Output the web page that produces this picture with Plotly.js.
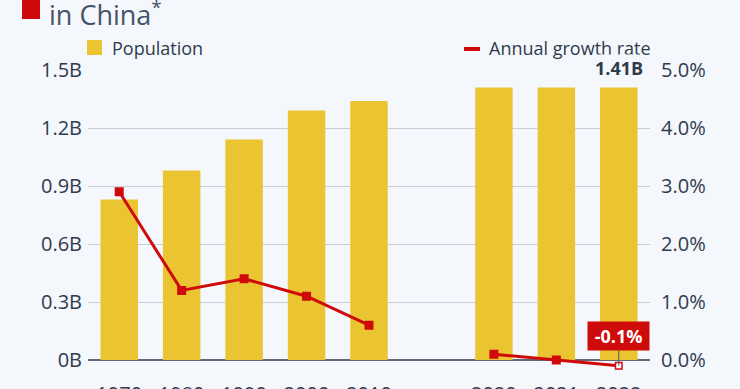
<!DOCTYPE html>
<html>
<head>
<meta charset="utf-8">
<script src="https://cdn.plot.ly/plotly-3.0.1.min.js"></script>
<style>
  html, body { margin: 0; padding: 0; background: #f4f7fb; }
  #chart { width: 740px; height: 389px; }
</style>
</head>
<body>
<div id="chart"></div>
<script>
// ---- data ----
const years = ["1970", "1980", "1990", "2000", "2010", "", "2020", "2021", "2022"];
const populationB = [0.83, 0.98, 1.14, 1.29, 1.34, null, 1.41, 1.41, 1.41];
const growthPct = [2.9, 1.2, 1.4, 1.1, 0.6, null, 0.1, 0.0, -0.1];
const leftTickVals = [0, 0.3, 0.6, 0.9, 1.2, 1.5];
const leftTickText = ["0B", "0.3B", "0.6B", "0.9B", "1.2B", "1.5B"];
const rightTickVals = [0, 1, 2, 3, 4, 5];
const rightTickText = ["0.0%", "1.0%", "2.0%", "3.0%", "4.0%", "5.0%"];
const titleText = "in China<sup>*</sup>";
const legendNames = ["Population", "Annual growth rate"];
const lastPopLabel = "1.41B";
const lastGrowthLabel = "-0.1%";

// ---- style ----
const BG = "#f4f7fb";
const YELLOW = "#eac431";
const RED = "#cf0a0a";
const TEXT = "#2f3b4d";
const FONT = "Open Sans, sans-serif";

// pixel frame: zero line at Z, top gridline at T, plot extends below zero to B
const L = 88, R = 650, T = 70, Z = 360, B = 372;
const px = x => (x - L) / (R - L);
const py = y => (B - y) / (B - T);
const yTop = 1.5, y2Top = 5;
const yLow = -yTop * (B - Z) / (Z - T);
const y2Low = -y2Top * (B - Z) / (Z - T);

const n = years.length;
const slot = years.map((y, i) => i);              // category slot index (one empty slot)
const tickSlots = slot.filter(i => years[i] !== "");
const tickLabels = tickSlots.map(i => years[i]);
const markerColors = growthPct.map((v, i) => i === n - 1 ? "#ffffff" : RED);
const markerSizes = growthPct.map((v, i) => i === n - 1 ? 6.5 : 7.5);

const traces = [
  {
    type: "bar",
    x: slot,
    y: populationB,
    marker: { color: YELLOW, line: { width: 0 } },
    showlegend: false,
    hoverinfo: "skip"
  },
  {
    type: "scatter",
    mode: "lines+markers",
    x: slot,
    y: growthPct,
    yaxis: "y2",
    line: { color: RED, width: 3 },
    marker: { symbol: "square", color: markerColors, size: markerSizes, opacity: 1, line: { color: RED, width: 1.5 } },
    cliponaxis: false,
    showlegend: false,
    hoverinfo: "skip"
  }
];

const layout = {
  width: 740,
  height: 389,
  margin: { l: L, r: 740 - R, t: T, b: 389 - B, pad: 0 },
  paper_bgcolor: BG,
  plot_bgcolor: BG,
  font: { family: FONT, color: TEXT, size: 20 },
  bargap: 0.4,
  xaxis: {
    type: "linear",
    range: [-0.5, n - 0.5],
    tickmode: "array",
    tickvals: tickSlots,
    ticktext: tickLabels,
    showgrid: false,
    zeroline: false,
    showline: false,
    ticks: "",
    ticklabelstandoff: 8,
    tickfont: { size: 20, color: TEXT },
    fixedrange: true
  },
  yaxis: {
    range: [yLow, yTop],
    tickmode: "array",
    tickvals: leftTickVals,
    ticktext: leftTickText,
    showgrid: true,
    gridcolor: "#c9ced6",
    gridwidth: 1,
    zeroline: true,
    zerolinecolor: "#5f6979",
    zerolinewidth: 1.5,
    ticks: "",
    ticklabelstandoff: 5,
    tickfont: { size: 20, color: TEXT },
    fixedrange: true
  },
  yaxis2: {
    overlaying: "y",
    side: "right",
    range: [y2Low, y2Top],
    tickmode: "array",
    tickvals: rightTickVals,
    ticktext: rightTickText,
    showgrid: false,
    zeroline: false,
    ticks: "",
    ticklabelstandoff: 10,
    tickfont: { size: 20, color: TEXT },
    fixedrange: true
  },
  shapes: [
    { type: "rect", xref: "paper", yref: "paper", x0: px(22), x1: px(40), y0: py(19), y1: py(-2), fillcolor: RED, line: { width: 0 } },
    { type: "rect", xref: "paper", yref: "paper", x0: px(87), x1: px(102), y0: py(55), y1: py(40), fillcolor: YELLOW, line: { width: 0 } },
    { type: "rect", xref: "paper", yref: "paper", x0: px(464), x1: px(480), y0: py(51), y1: py(47), fillcolor: RED, line: { width: 0 } }
  ],
  annotations: [
    { text: titleText, xref: "paper", yref: "paper", x: px(47), y: py(13), xanchor: "left", yanchor: "middle",
      showarrow: false, font: { size: 27, color: "#44536a", family: FONT } },
    { text: legendNames[0], xref: "paper", yref: "paper", x: px(110), y: py(48), xanchor: "left", yanchor: "middle",
      showarrow: false, font: { size: 18, color: TEXT, family: FONT } },
    { text: legendNames[1], xref: "paper", yref: "paper", x: px(487), y: py(48), xanchor: "left", yanchor: "middle",
      showarrow: false, font: { size: 18, color: TEXT, family: FONT } },
    { text: "<b>" + lastPopLabel + "</b>", x: slot[n - 1], y: populationB[n - 1], xref: "x", yref: "y",
      xanchor: "center", yanchor: "bottom", yshift: 5, showarrow: false, bgcolor: BG, borderpad: 1,
      font: { size: 18, color: TEXT, family: FONT } },
    { text: "<b>&nbsp;" + lastGrowthLabel + "&nbsp;</b>", x: slot[n - 1], y: growthPct[n - 1], xref: "x", yref: "y2",
      showarrow: true, arrowhead: 0, arrowwidth: 1, arrowcolor: "#4a5566", ax: 0, ay: -30,
      bgcolor: RED, borderpad: 2, font: { size: 18, color: "#ffffff", family: FONT } }
  ]
};

Plotly.newPlot("chart", traces, layout, { staticPlot: true, displayModeBar: false });
</script>
</body>
</html>
